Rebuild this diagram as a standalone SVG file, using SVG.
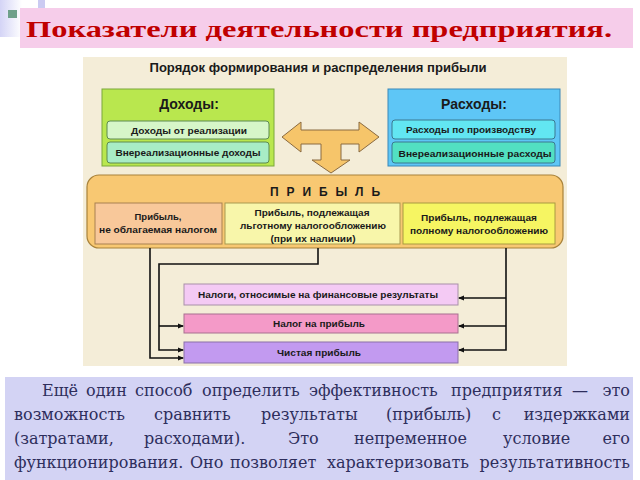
<svg xmlns="http://www.w3.org/2000/svg" width="640" height="480" viewBox="0 0 640 480">
<defs>
<linearGradient id="lg" x1="0" y1="0" x2="1" y2="0">
<stop offset="0" stop-color="#d4d4f6"/>
<stop offset="1" stop-color="#ffffff"/>
</linearGradient>
<marker id="ah" markerWidth="6" markerHeight="6" refX="5" refY="3" orient="auto" markerUnits="userSpaceOnUse">
<path d="M0,0.5 L6,3 L0,5.5 Z" fill="#111"/>
</marker>
<style>
.t{font-family:"Liberation Sans",Arial,sans-serif;font-weight:bold;fill:#1a1a1a;text-anchor:middle}
.s{font-size:9.5px}
.h{font-size:14px}
.ib{stroke-width:1}
.lt{fill:none;stroke:#111;stroke-width:1.6;marker-end:url(#ah)}
.p{font-family:"DejaVu Serif","Liberation Serif",serif;font-size:16px;fill:#2e2e5c}
.e{text-anchor:end}
</style>
</defs>
<rect width="640" height="480" fill="#ffffff"/>
<rect x="0" y="0" width="22" height="37" fill="url(#lg)"/>
<rect x="38" y="0" width="7" height="16" fill="#cbcbf2"/>
<rect x="8" y="10" width="9" height="8" fill="#6fa08a"/>
<g id="title">
<rect x="20" y="8" width="613" height="40" fill="#f6cdea"/>
<text x="26" y="37" font-family="Liberation Serif,'Times New Roman',serif" font-weight="bold" font-size="24" fill="#c00000" textLength="586" lengthAdjust="spacingAndGlyphs">Показатели деятельности предприятия.</text>
</g>
<g id="diagram-bg">
<rect x="83" y="57" width="484" height="309" fill="#f4edd8"/>
<text class="t" x="318" y="72" font-size="12" textLength="337" lengthAdjust="spacingAndGlyphs">Порядок формирования и распределения прибыли</text>
</g>
<g id="dohody">
<rect x="102" y="89" width="172" height="77" fill="#b9e74e" stroke="#7aa83a"/>
<text class="t h" x="189" y="109">Доходы:</text>
<rect x="107" y="121" width="162" height="18" rx="3" fill="#d6f6c8" stroke="#5c8a50" class="ib"/>
<text class="t s" x="189" y="133.5" textLength="116" lengthAdjust="spacingAndGlyphs">Доходы  от реализации</text>
<rect x="107" y="142" width="162" height="21" rx="3" fill="#a8ecc6" stroke="#5c8a50" class="ib"/>
<text class="t s" x="188" y="156" textLength="145" lengthAdjust="spacingAndGlyphs">Внереализационные доходы</text>
</g>
<g id="rashody">
<rect x="388" y="89" width="172" height="77" fill="#5ec6f6" stroke="#3a88b8"/>
<text class="t h" x="474" y="109">Расходы:</text>
<rect x="392" y="120" width="163" height="19" rx="3" fill="#62e6f2" stroke="#3a7890" class="ib"/>
<text class="t s" x="471" y="133" textLength="130" lengthAdjust="spacingAndGlyphs">Расходы по производству</text>
<rect x="392" y="142" width="163" height="21" rx="3" fill="#52e0c2" stroke="#3a7890" class="ib"/>
<text class="t s" x="475" y="156.5" textLength="153" lengthAdjust="spacingAndGlyphs">Внереализационные  расходы</text>
</g>
<g id="arrow">
<polygon points="282,137 301,122 301,130 359,130 359,122 379,137 359,152 359,144 341,144 341,160 350,160 331,173 312,160 321,160 321,144 301,144 301,152" fill="#f6c56a" stroke="#8a6a40" stroke-width="1"/>
</g>
<g id="pribyl">
<rect x="87" y="175" width="476" height="73" rx="12" fill="#f8c872" stroke="#a8823a" stroke-width="1.2"/>
<text class="t" x="325" y="196" font-size="12" textLength="110" lengthAdjust="spacing">П Р И Б Ы Л Ь</text>
<rect x="95" y="203" width="127" height="41" fill="#f8c89a" stroke="#a88050" class="ib"/>
<text class="t s" x="158" y="220">Прибыль,</text>
<text class="t s" x="158" y="233" textLength="118" lengthAdjust="spacingAndGlyphs">не облагаемая налогом</text>
<rect x="225" y="203" width="175" height="41" fill="#f8f6aa" stroke="#a89a50" class="ib"/>
<text class="t s" x="312" y="215.5" textLength="115" lengthAdjust="spacingAndGlyphs">Прибыль, подлежащая</text>
<text class="t s" x="313" y="228.5" textLength="146" lengthAdjust="spacingAndGlyphs">льготному налогообложению</text>
<text class="t s" x="313" y="241.5" textLength="85" lengthAdjust="spacingAndGlyphs">(при их наличии)</text>
<rect x="403" y="203" width="152" height="41" fill="#f6f562" stroke="#a89a40" class="ib"/>
<text class="t s" x="479" y="220.5" textLength="116" lengthAdjust="spacingAndGlyphs">Прибыль, подлежащая</text>
<text class="t s" x="479" y="233.5" textLength="138" lengthAdjust="spacingAndGlyphs">полному налогообложению</text>
</g>
<g id="nalogi">
<rect x="184" y="284" width="274" height="21" fill="#f4caf4" stroke="#a890a8" class="ib"/>
<text class="t s" x="318" y="298" textLength="240" lengthAdjust="spacingAndGlyphs">Налоги, относимые на финансовые результаты</text>
</g>
<g id="nalog-na-pribyl">
<rect x="184" y="314" width="274" height="19" fill="#f49ac8" stroke="#a87090" class="ib"/>
<text class="t s" x="319" y="327" textLength="92" lengthAdjust="spacingAndGlyphs">Налог на прибыль</text>
</g>
<g id="chistaya">
<rect x="184" y="342" width="274" height="21" fill="#c29af0" stroke="#8a70a8" class="ib"/>
<text class="t s" x="319" y="356" textLength="84" lengthAdjust="spacingAndGlyphs">Чистая прибыль</text>
</g>
<g id="connectors">
<path class="lt" d="M150,248 V358 H183"/>
<path class="lt" d="M318,248 V264 H159 V350 H183"/>
<path class="lt" d="M159,326 H183" stroke-width="1.2"/>
<path class="lt" d="M506,248 V350 H459"/>
<path class="lt" d="M506,298 H459"/>
<path class="lt" d="M506,326 H459" stroke-width="1.2"/>
</g>
<g id="textbox">
<rect x="5" y="377" width="628" height="103" fill="#d3d3f4"/>
<text class="p" y="396"><tspan x="42">Ещё</tspan><tspan x="86">один</tspan><tspan x="135">способ</tspan><tspan x="202">определить</tspan><tspan x="309">эффективность</tspan><tspan x="451">предприятия</tspan><tspan x="572">—</tspan></text>
<text class="p e" x="630" y="396">это</text>
<text class="p" y="420"><tspan x="14">возможность</tspan><tspan x="154">сравнить</tspan><tspan x="261">результаты</tspan><tspan x="386">(прибыль)</tspan><tspan x="492">с</tspan></text>
<text class="p e" x="630" y="420">издержками</text>
<text class="p" y="444"><tspan x="14">(затратами,</tspan><tspan x="144">расходами).</tspan><tspan x="288">Это</tspan><tspan x="354">непременное</tspan><tspan x="503">условие</tspan></text>
<text class="p e" x="630" y="444">его</text>
<text class="p" y="468"><tspan x="14">функционирования.</tspan><tspan x="190">Оно</tspan><tspan x="230">позволяет</tspan><tspan x="327">характеризовать</tspan></text>
<text class="p e" x="630" y="468">результативность</text>
</g>
</svg>
